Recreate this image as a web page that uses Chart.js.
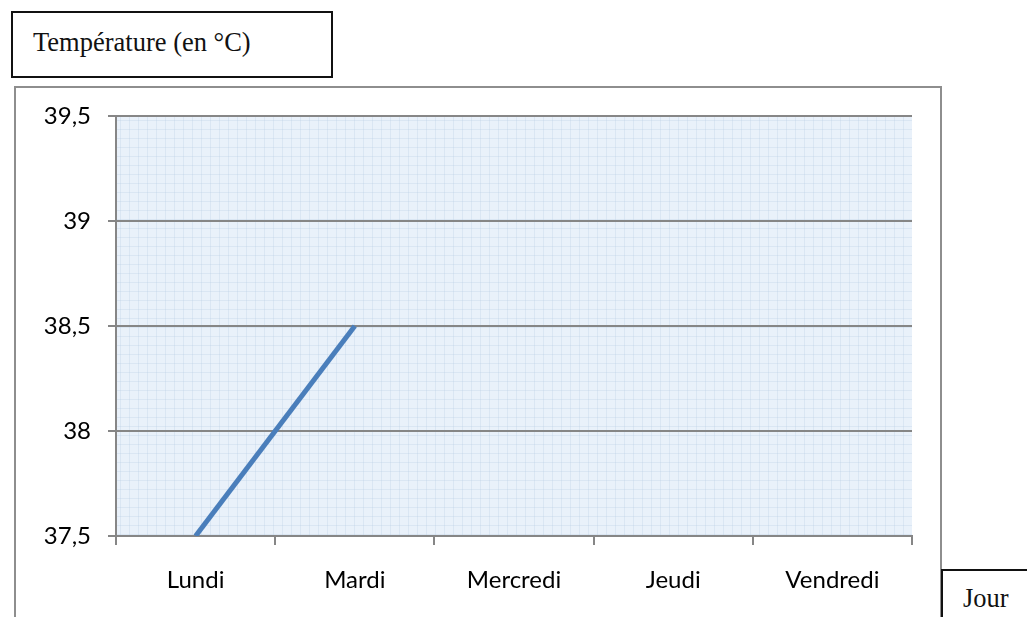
<!DOCTYPE html>
<html>
<head>
<meta charset="utf-8">
<script src="https://cdn.jsdelivr.net/npm/chart.js@4/dist/chart.umd.min.js"></script>
<style>
  html, body { margin: 0; padding: 0; background: #fff; }
  #wrap { position: relative; width: 1027px; height: 617px; overflow: hidden; }
  #chart { position: absolute; left: 0; top: 0; }
  .frame { position: absolute; left: 14px; top: 86px; width: 924px; height: 540px;
           border: 2px solid #8e8e8e; border-bottom: none; }
  .box { position: absolute; border: 2px solid #111; background: #fff;
         font-family: "Liberation Serif", "Times New Roman", serif; font-size: 26.5px; color: #111; line-height: 1; }
  #titleBox { left: 11px; top: 11px; width: 318px; height: 63px; }
  #titleBox span { position: absolute; left: 20px; top: 16px; }
  #jourBox { left: 941px; top: 569px; width: 100px; height: 60px; border-right: none; }
  #jourBox span { position: absolute; left: 20px; top: 14px; }
</style>
</head>
<body>
<div id="wrap">
  <div class="frame"></div>
  <canvas id="chart" width="1027" height="617"></canvas>
  <div class="box" id="titleBox"><span>Température (en °C)</span></div>
  <div class="box" id="jourBox"><span>Jour</span></div>
</div>
<script>
// données
const jours = ['Lundi', 'Mardi', 'Mercredi', 'Jeudi', 'Vendredi'];
const temperatures = [37.5, 38.5, null, null, null];
const yMin = 37.5;
const yMax = 39.5;
const yStep = 0.5;

// fond bleu quadrillé de la zone de tracé
const plotBackground = {
  id: 'plotBackground',
  beforeDraw: function (chart) {
    const a = chart.chartArea;
    const ctx = chart.ctx;
    ctx.save();
    ctx.fillStyle = '#e9f1fa';
    ctx.fillRect(a.left, a.top, a.right - a.left, a.bottom - a.top);
    ctx.strokeStyle = 'rgba(175, 200, 225, 0.25)';
    ctx.lineWidth = 1;
    ctx.beginPath();
    for (let x = a.left + 4.5; x < a.right; x += 9) {
      ctx.moveTo(x, a.top);
      ctx.lineTo(x, a.bottom);
    }
    for (let y = a.top + 4.5; y < a.bottom; y += 9) {
      ctx.moveTo(a.left, y);
      ctx.lineTo(a.right, y);
    }
    ctx.stroke();
    ctx.restore();
  }
};

const ctx = document.getElementById('chart').getContext('2d');
new Chart(ctx, {
  type: 'line',
  data: {
    labels: jours,
    datasets: [{
      data: temperatures,
      borderColor: '#4a7ebb',
      borderWidth: 5,
      pointRadius: 0,
      tension: 0,
      spanGaps: false
    }]
  },
  options: {
    responsive: false,
    animation: false,
    layout: { padding: { top: 116, right: 115, left: 0, bottom: 0 } },
    plugins: { legend: { display: false }, tooltip: { enabled: false } },
    scales: {
      x: {
        offset: true,
        afterFit: function (scale) { scale.height = 81; },
        grid: { offset: true, drawOnChartArea: false, drawTicks: true, tickLength: 9, color: '#868686', lineWidth: 2 },
        border: { color: '#868686', width: 2 },
        ticks: { padding: 21, color: '#000', font: { family: 'Lato, "Open Sans", sans-serif', size: 24 } }
      },
      y: {
        min: yMin,
        max: yMax,
        afterFit: function (scale) { scale.width = 116; },
        ticks: {
          stepSize: yStep,
          padding: 17,
          color: '#000',
          font: { family: 'Lato, "Open Sans", sans-serif', size: 24 },
          callback: function (v) { return String(v).replace('.', ','); }
        },
        grid: { color: '#868686', lineWidth: 2, tickLength: 8 },
        border: { color: '#868686', width: 2 }
      }
    }
  },
  plugins: [plotBackground]
});
</script>
</body>
</html>
